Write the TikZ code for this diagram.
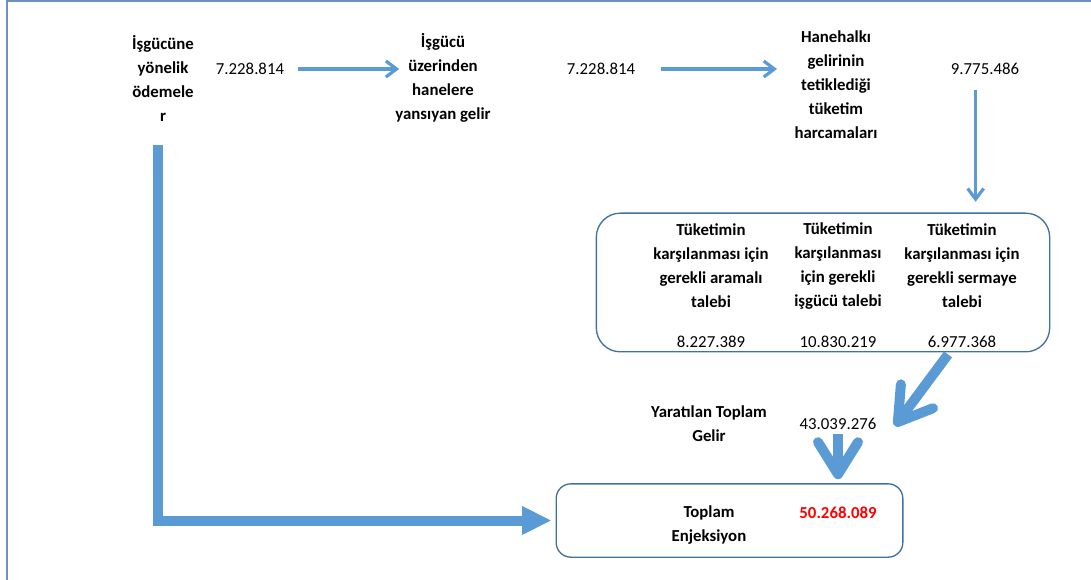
\documentclass[tikz,border=0pt]{standalone}
\usepackage{fontspec}
\setmainfont{Carlito}
\usetikzlibrary{arrows.meta}
\definecolor{arrowblue}{HTML}{5B9BD5}
\definecolor{boxblue}{HTML}{41719C}
\definecolor{framegray}{HTML}{6F8FBF}
\begin{document}
\begin{tikzpicture}[x=0.75pt,y=-0.75pt,
    txt/.style={align=center,font=\fontsize{12.6}{18}\selectfont\bfseries,inner sep=1pt},
    num/.style={font=\fontsize{12.6}{18}\selectfont,inner sep=1pt},
    thinarrow/.style={draw=arrowblue,line width=2.4pt,-{Straight Barb[length=8pt,width=12pt]}},
    bigarrow/.style={draw=arrowblue,line width=7.5pt,-{Straight Barb[length=24pt,width=30pt,round]}},
    lbar/.style={draw=arrowblue,line width=7.5pt,-{Triangle[length=22pt,width=20pt]}}]
    \useasboundingbox (0,0) rectangle (1091,580);
    \draw[framegray,line width=1pt] (7,580)--(7,1)--(1091,1);

    \node[txt] (AA) at (163,78) {İşgücüne\\yönelik\\ödemele\\r};
    \node[num] (AB) at (250,69) {7.228.814};
    \node[txt] (AC) at (443,78) {İşgücü\\üzerinden\\hanelere\\yansıyan gelir};
    \node[num] (AD) at (601,69) {7.228.814};
    \node[txt] (AE) at (836,85) {Hanehalkı\\gelirinin\\tetiklediği\\tüketim\\harcamaları};
    \node[num] (AF) at (985,69) {9.775.486};

    \node[draw=boxblue,line width=1pt,rounded corners=18pt,minimum width=340pt,minimum height=104pt] (AG) at (823,282.5) {};
    \node[txt] (AH) at (711,266) {Tüketimin\\karşılanması için\\gerekli aramalı\\talebi};
    \node[txt] (AI) at (838,266) {Tüketimin\\karşılanması\\için gerekli\\işgücü talebi};
    \node[txt] (AJ) at (962,266) {Tüketimin\\karşılanması için\\gerekli sermaye\\talebi};
    \node[num] (AK) at (711,342) {8.227.389};
    \node[num] (AL) at (838,342) {10.830.219};
    \node[num] (AM) at (962,342) {6.977.368};

    \node[txt] (AN) at (709,424) {Yaratılan Toplam\\Gelir};
    \node[num] (AO) at (838,424) {43.039.276};

    \node[draw=boxblue,line width=1pt,rounded corners=11pt,minimum width=260pt,minimum height=55pt] (AP) at (729.5,520.5) {};
    \node[txt] (AQ) at (709,525) {Toplam\\Enjeksiyon};
    \node[txt,text=red] (AR) at (838,513) {50.268.089};

    \draw[thinarrow,shorten <=9pt,shorten >=-4pt] (AB.east) -- (AB.east -| AC.west);
    \draw[thinarrow,shorten <=18pt,shorten >=12pt] (AD.east) -- (AD.east -| AE.west);
    \draw[thinarrow,shorten <=10pt,shorten >=8pt] ([xshift=-7pt]AF.south) -- ([xshift=-7pt]AF.south |- AG.north);
    \draw[bigarrow] ([shift={(-14,5)}]AM.south) -- ([shift={(17,2)}]AO.east);
    \draw[bigarrow,shorten <=2pt,shorten >=3pt] (AO.south) -- (AO.south |- AP.north);
    \draw[lbar,shorten <=17pt,shorten >=3pt] ([xshift=-4pt]AA.south) |- (AP.west);
\end{tikzpicture}
\end{document}
